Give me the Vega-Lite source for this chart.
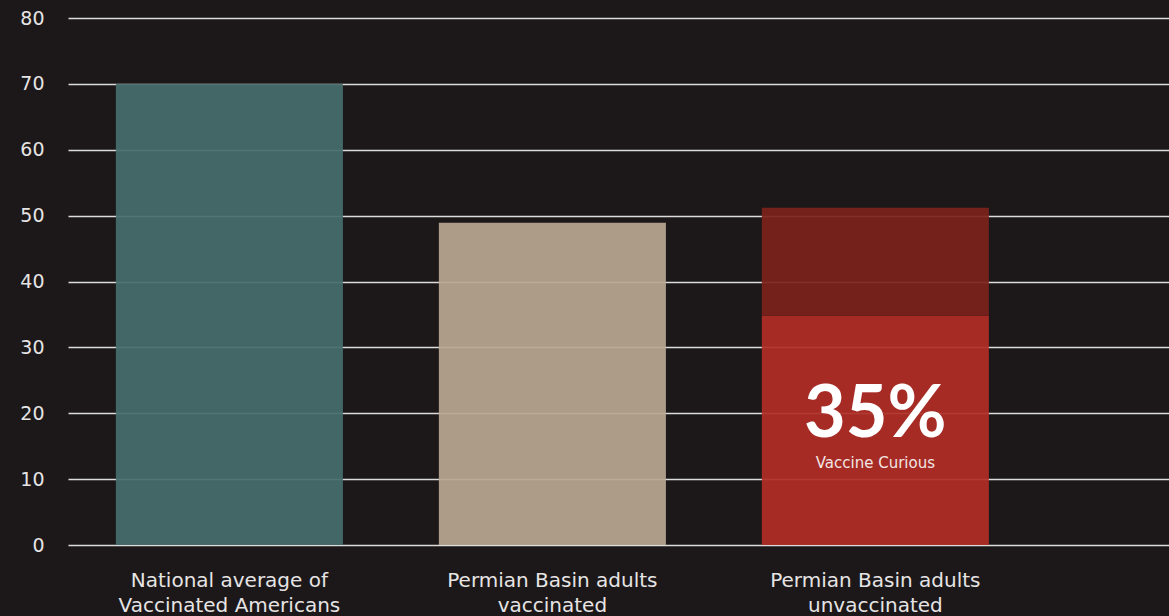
{
  "$schema": "https://vega.github.io/schema/vega-lite/v6.json",
  "autosize": "none",
  "width": 1101,
  "height": 527,
  "padding": {"left": 68, "top": 18, "right": 0, "bottom": 71},
  "background": "#1c1819",
  "config": {
    "view": {"stroke": null},
    "font": "DejaVu Sans"
  },
  "datasets": {
    "bars": [
      {"group": "National average of Vaccinated Americans", "segment": "National vaccinated", "value": 70, "ord": 1},
      {"group": "Permian Basin adults vaccinated", "segment": "Permian Basin vaccinated", "value": 48.9, "ord": 1},
      {"group": "Permian Basin adults unvaccinated", "segment": "Vaccine curious", "value": 34.8, "ord": 1},
      {"group": "Permian Basin adults unvaccinated", "segment": "Other unvaccinated", "value": 16.4, "ord": 2}
    ],
    "notes": [
      {"group": "Permian Basin adults unvaccinated", "kind": "big", "text": "35%", "value": 19.8},
      {"group": "Permian Basin adults unvaccinated", "kind": "small", "text": "Vaccine Curious", "value": 12.4}
    ]
  },
  "layer": [
    {
      "data": {"name": "bars"},
      "mark": {"type": "bar", "opacity": 0.93},
      "encoding": {
        "x": {
          "field": "group", "type": "nominal",
          "sort": ["National average of Vaccinated Americans", "Permian Basin adults vaccinated", "Permian Basin adults unvaccinated"],
          "scale": {"paddingInner": 0.297, "paddingOuter": 0.353, "align": 0.21},
          "axis": {
            "title": null, "domain": false, "ticks": false, "labelAngle": 0,
            "labelColor": "#e6e4e4", "labelFontSize": 20, "labelPadding": 25,
            "labelLineHeight": 25, "labelLimit": 400,
            "labelExpr": "datum.label == 'National average of Vaccinated Americans' ? ['National average of', 'Vaccinated Americans'] : datum.label == 'Permian Basin adults vaccinated' ? ['Permian Basin adults', 'vaccinated'] : ['Permian Basin adults', 'unvaccinated']"
          }
        },
        "y": {
          "field": "value", "type": "quantitative", "stack": "zero",
          "scale": {"domain": [0, 80], "nice": false},
          "axis": {
            "title": null, "domain": false, "ticks": false,
            "values": [0, 10, 20, 30, 40, 50, 60, 70, 80],
            "labelColor": "#e6e4e4", "labelFontSize": 19, "labelPadding": 24,
            "labelOverlap": false,
            "gridColor": "#dcdcdc", "gridWidth": 1.6, "gridOpacity": 1
          }
        },
        "color": {
          "field": "segment", "type": "nominal", "legend": null,
          "scale": {
            "domain": ["National vaccinated", "Permian Basin vaccinated", "Vaccine curious", "Other unvaccinated"],
            "range": ["#466d6d", "#b8a891", "#b02d27", "#7c221c"]
          }
        },
        "order": {"field": "ord", "type": "quantitative"}
      }
    },
    {
      "data": {"name": "notes"},
      "transform": [{"filter": "datum.kind == 'big'"}],
      "mark": {"type": "text", "color": "#ffffff", "fontSize": 72, "fontWeight": "bold", "baseline": "middle", "align": "center", "font": "Lato"},
      "encoding": {
        "x": {"field": "group", "type": "nominal", "sort": ["National average of Vaccinated Americans", "Permian Basin adults vaccinated", "Permian Basin adults unvaccinated"]},
        "y": {"field": "value", "type": "quantitative"},
        "text": {"field": "text"}
      }
    },
    {
      "data": {"name": "notes"},
      "transform": [{"filter": "datum.kind == 'small'"}],
      "mark": {"type": "text", "color": "#f2e6e4", "fontSize": 15, "baseline": "middle", "align": "center"},
      "encoding": {
        "x": {"field": "group", "type": "nominal", "sort": ["National average of Vaccinated Americans", "Permian Basin adults vaccinated", "Permian Basin adults unvaccinated"]},
        "y": {"field": "value", "type": "quantitative"},
        "text": {"field": "text"}
      }
    }
  ]
}
